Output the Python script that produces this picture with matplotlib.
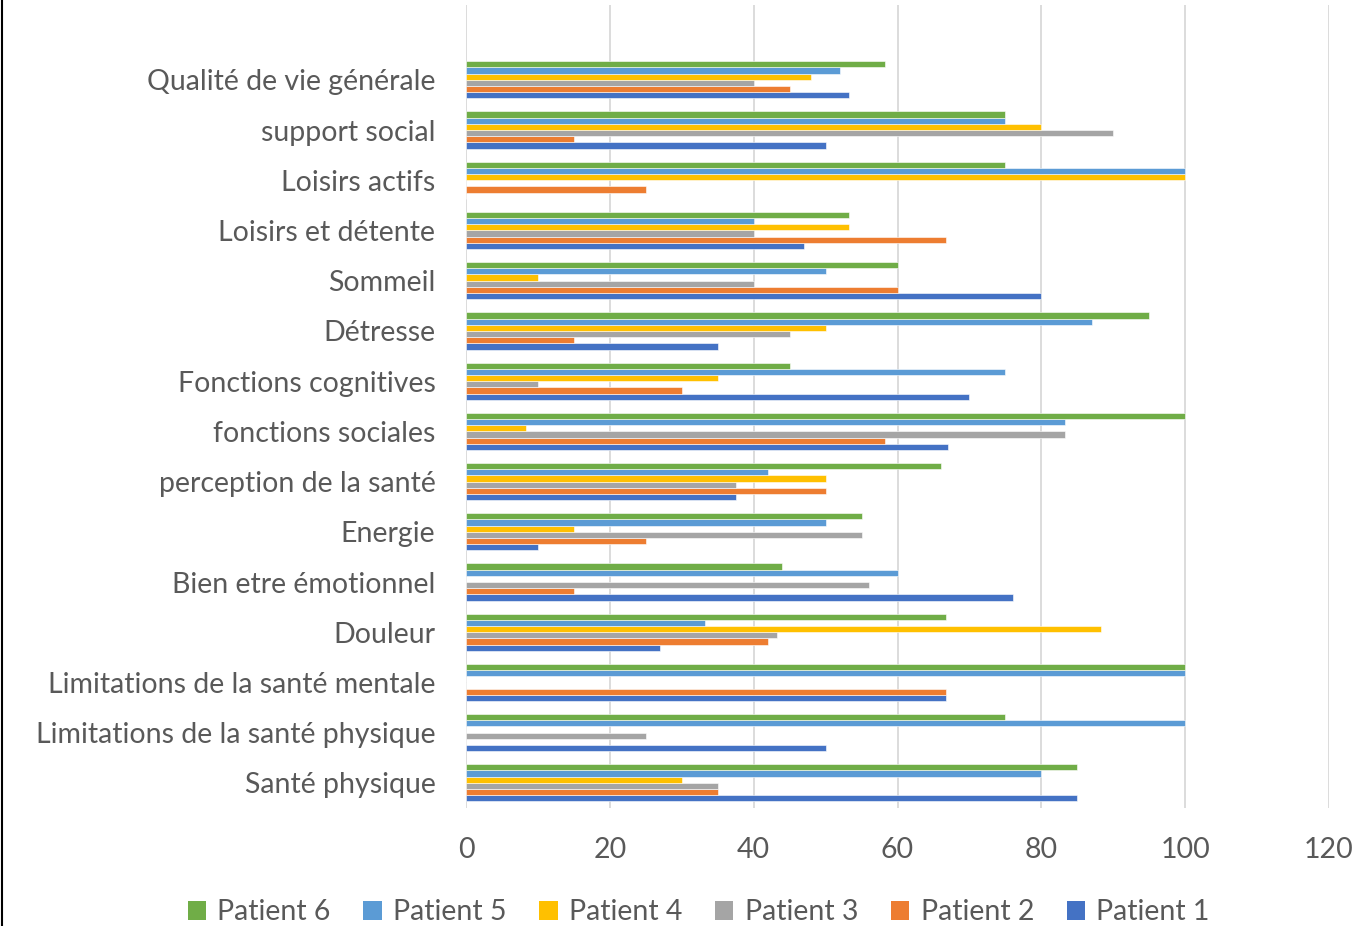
import numpy as np
import matplotlib.pyplot as plt
from matplotlib.lines import Line2D
from matplotlib.patches import Patch

# categories listed top -> bottom as they appear in the chart
CATEGORIES = [
    "Qualité de vie générale", "support social", "Loisirs actifs",
    "Loisirs et détente", "Sommeil", "Détresse", "Fonctions cognitives",
    "fonctions sociales", "perception de la santé", "Energie",
    "Bien etre émotionnel", "Douleur", "Limitations de la santé mentale",
    "Limitations de la santé physique", "Santé physique",
]

PATIENT_1 = [53.3, 50, 0, 47, 80, 35, 70, 67, 37.5, 10, 76, 27, 66.7, 50, 85]
PATIENT_2 = [45, 15, 25, 66.7, 60, 15, 30, 58.3, 50, 25, 15, 42, 66.7, 0, 35]
PATIENT_3 = [40, 90, 0, 40, 40, 45, 10, 83.3, 37.5, 55, 56, 43.3, 0, 25, 35]
PATIENT_4 = [48, 80, 100, 53.3, 10, 50, 35, 8.3, 50, 15, 0, 88.3, 0, 0, 30]
PATIENT_5 = [52, 75, 100, 40, 50, 87, 75, 83.3, 42, 50, 60, 33.3, 100, 100, 80]
PATIENT_6 = [58.3, 75, 75, 53.3, 60, 95, 45, 100, 66, 55, 44, 66.7, 100, 75, 85]

SERIES = ["Patient 1", "Patient 2", "Patient 3", "Patient 4", "Patient 5", "Patient 6"]
COLORS = ["#4472C4", "#ED7D31", "#A5A5A5", "#FFC000", "#5B9BD5", "#70AD47"]
X_TICKS = [0, 20, 40, 60, 80, 100, 120]

plt.rcParams["font.family"] = ["Lato", "DejaVu Sans"]
TEXT = "#595959"

fig = plt.figure(figsize=(13.62, 9.26), dpi=100)
ax = fig.add_axes([466 / 1362, 1 - 808 / 926, (1329 - 466) / 1362, 803 / 926])

values = [PATIENT_1, PATIENT_2, PATIENT_3, PATIENT_4, PATIENT_5, PATIENT_6]
n = len(CATEGORIES)
y = np.arange(n)[::-1]  # top category at highest y
bar_h = 0.1235
for k, (vals, col) in enumerate(zip(values, COLORS)):
    offs = (k - 2.5) * bar_h
    ax.barh(y + offs, vals, height=bar_h, color=col, edgecolor="white",
            linewidth=0.4, zorder=3)

ax.set_xlim(0, 120)
ax.set_ylim(-0.5, 15.49)
ax.set_xticks(X_TICKS)
ax.set_xticklabels([str(t) for t in X_TICKS])
ax.set_yticks(y)
ax.set_yticklabels(CATEGORIES)
ax.tick_params(axis="both", length=0, labelsize=20.5, colors=TEXT)
ax.tick_params(axis="x", pad=21)
ax.tick_params(axis="y", pad=22)
ax.grid(axis="x", color="#D9D9D9", linewidth=1.3, zorder=0)
for s in ax.spines.values():
    s.set_visible(False)

handles = [Patch(facecolor=c, label=s) for s, c in zip(SERIES, COLORS)][::-1]
fig.legend(handles=handles, loc="lower center", ncol=6, frameon=False,
           bbox_to_anchor=(0.513, -0.027), fontsize=20.5, labelcolor=TEXT,
           handlelength=0.65, handleheight=0.65, handletextpad=0.4,
           columnspacing=1.14)

fig.add_artist(Line2D([2 / 1362, 2 / 1362], [0, 1], color="black",
                      linewidth=1.5, transform=fig.transFigure))

fig.savefig("out.png", dpi=100)
